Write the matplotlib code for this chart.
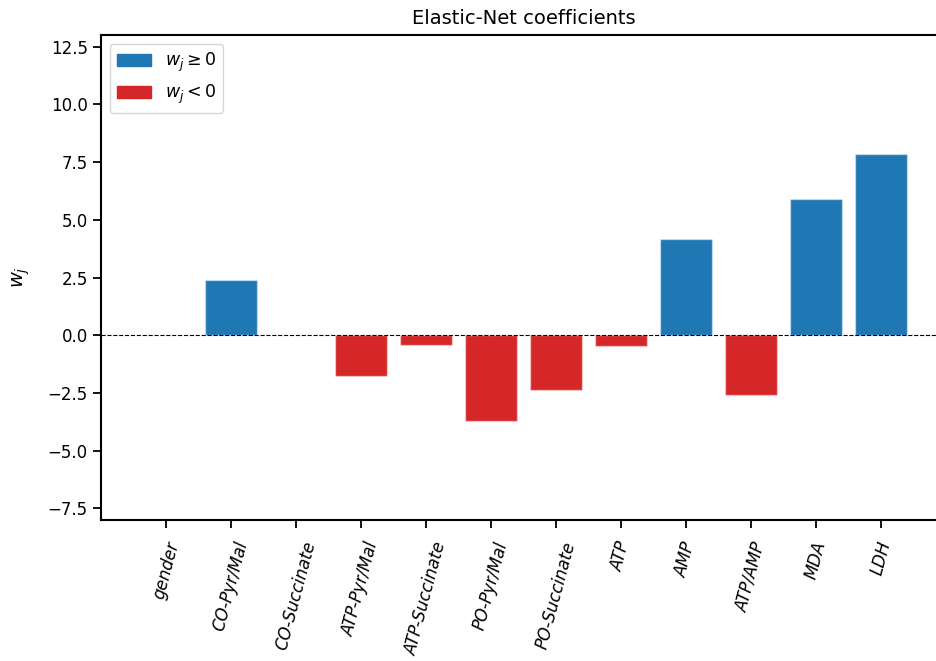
import numpy as np
import matplotlib
matplotlib.use("Agg")
from matplotlib import pyplot as plt
from matplotlib.patches import Patch

features = ["gender", "CO-Pyr/Mal", "CO-Succinate", "ATP-Pyr/Mal", "ATP-Succinate",
            "PO-Pyr/Mal", "PO-Succinate", "ATP", "AMP", "ATP/AMP", "MDA", "LDH"]
coefs = [0.0, 2.38, 0.0, -1.77, -0.44, -3.71, -2.38, -0.47, 4.17, -2.6, 5.9, 7.85]

pos_color = "#1f77b4"
neg_color = "#d62728"

fig = plt.figure(figsize=(9.36, 6.61), dpi=100)
# axes runs a little past the right edge of the figure
ax = fig.add_axes([101 / 936, 1 - 520 / 661, 845 / 936, 485 / 661])

x = np.arange(len(features))
colors = [pos_color if c >= 0 else neg_color for c in coefs]
ax.bar(x, coefs, width=0.8, color=colors, edgecolor=(1, 1, 1, 0.45), linewidth=1.0)
ax.axhline(0, color="black", linestyle="--", linewidth=0.8)

ax.set_xlim(-1, 12)
ax.set_ylim(-8, 13)
ax.set_yticks(np.arange(-7.5, 12.6, 2.5))
ax.set_xticks(x)
ax.set_xticklabels(features, rotation=75, fontstyle="italic", fontsize=12)
ax.tick_params(axis="both", labelsize=12, width=1.3, length=6)
ax.tick_params(axis="x", pad=8)
for s in ax.spines.values():
    s.set_linewidth(1.5)

ax.set_ylabel("$w_j$", fontsize=14, labelpad=11)
ax.set_title("Elastic-Net coefficients", fontsize=14, pad=8)

handles = [Patch(color=pos_color, label=r"$w_j \geq 0$"),
           Patch(color=neg_color, label=r"$w_j < 0$")]
ax.legend(handles=handles, loc="upper left", fontsize=12.5)

fig.savefig("out.png", dpi=100)
